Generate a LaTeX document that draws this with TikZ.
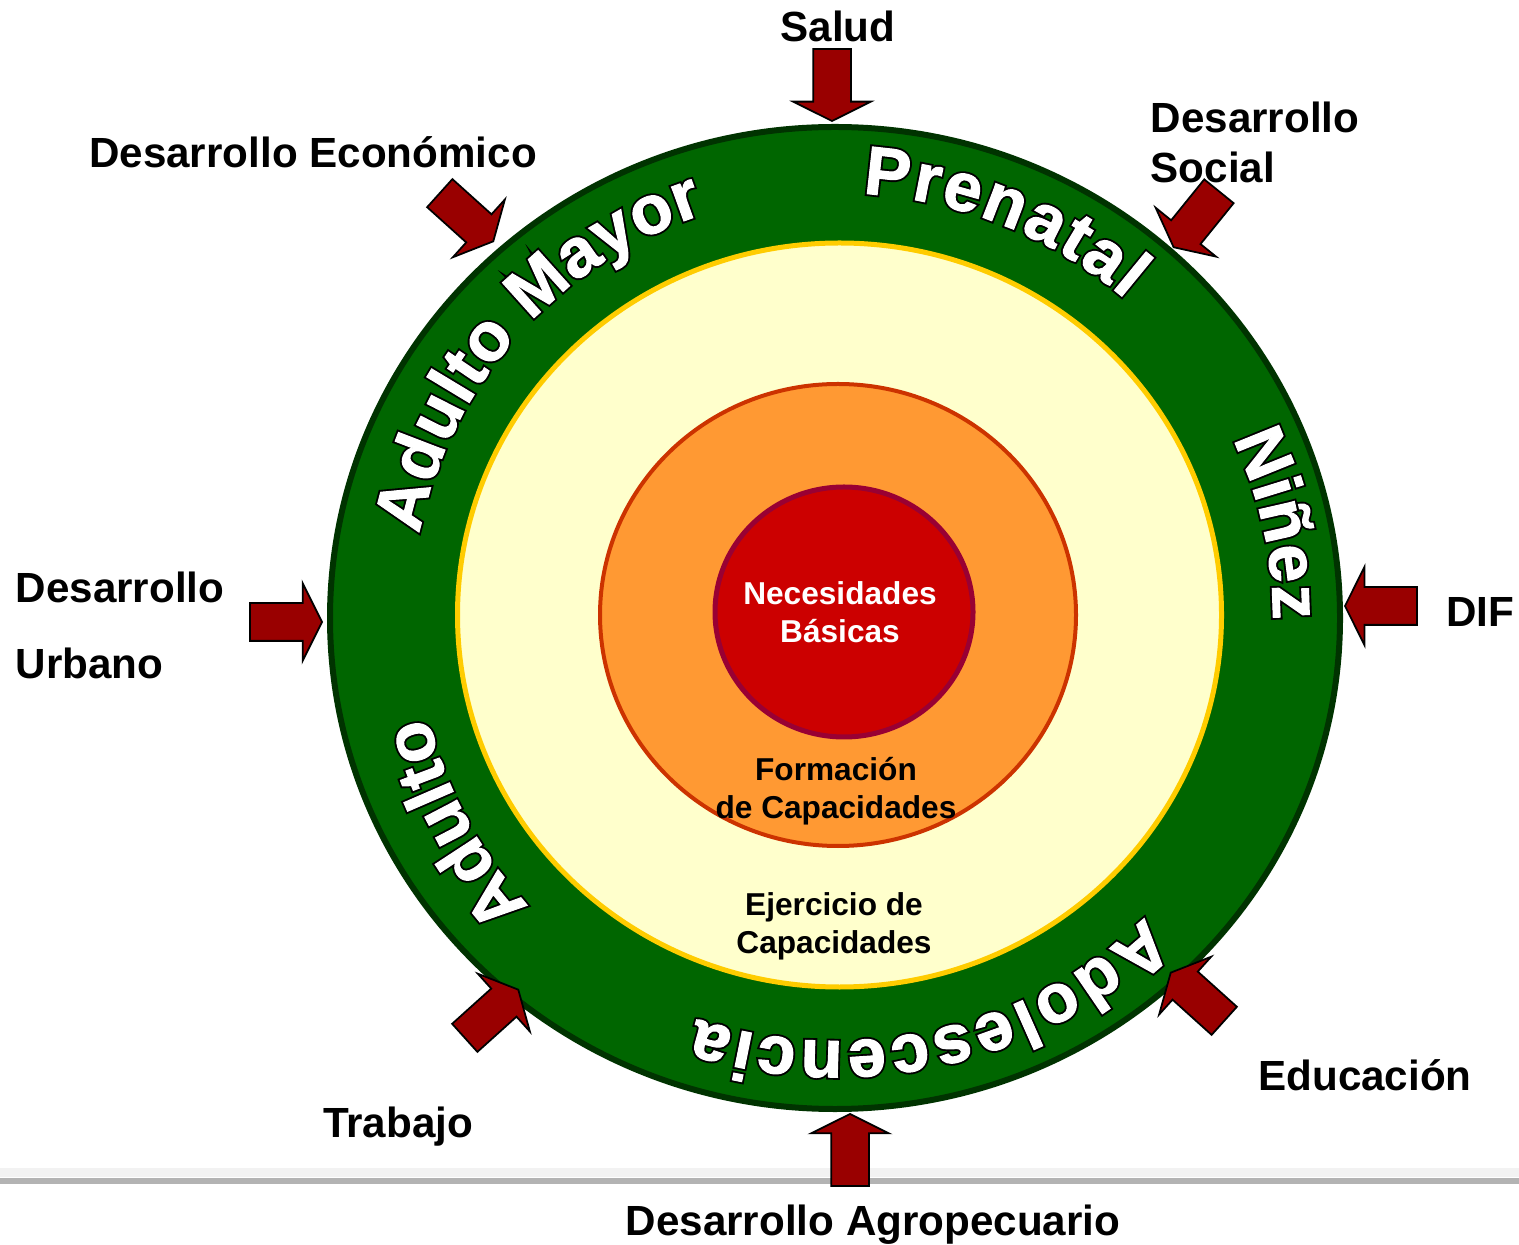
\documentclass[tikz,border=0pt]{standalone}
\usepackage{fontspec}
\setmainfont{Liberation Sans}
\newfontface\ringbgface{Liberation Sans Bold}[FakeBold=7]
\newfontface\ringfgface{Liberation Sans Bold}[FakeBold=1.5]
\usetikzlibrary{shapes.arrows,decorations.text}
\definecolor{ringgreen}{HTML}{006600}
\definecolor{ringedge}{HTML}{003300}
\definecolor{paleyellow}{HTML}{FFFFCC}
\definecolor{gold}{HTML}{FFCC00}
\definecolor{orangefill}{HTML}{FF9933}
\definecolor{orangeedge}{HTML}{CC3300}
\definecolor{corered}{HTML}{CC0000}
\definecolor{coreedge}{HTML}{990033}
\definecolor{arrowred}{HTML}{990000}
\definecolor{rulegray}{HTML}{B3B3B3}
\newcommand\ringfg{\ringfgface\fontsize{19.5pt}{22pt}\selectfont\color{white}}
\newcommand\ringbg{\ringbgface\fontsize{19.5pt}{22pt}\selectfont\color{black}}
% word along the green ring, from angle #2 to #3, x radius #1
\newcommand\ringword[4][4.37cm]{%
  \path[decorate, decoration={text along path, text={|\ringbg|#4}, text align={fit to path}}]
    (ctr) ++(#2:#1 and 4.24cm) arc[start angle=#2, end angle=#3, x radius=#1, y radius=4.24cm];
  \path[decorate, decoration={text along path, text={|\ringfg|#4}, text align={fit to path}}]
    (ctr) ++(#2:#1 and 4.24cm) arc[start angle=#2, end angle=#3, x radius=#1, y radius=4.24cm];}

\begin{document}
\begin{tikzpicture}[
    lbl/.style={font=\fontsize{12pt}{14.2pt}\selectfont\bfseries, inner sep=0pt},
    inlbl/.style={font=\fontsize{9pt}{10.8pt}\selectfont\bfseries, align=center, inner sep=0pt},
    inarrow/.style={single arrow, draw=black, fill=arrowred, line width=0.5pt, inner sep=0pt,
                    minimum height=0.72cm, single arrow head extend=0.2cm, single arrow tip angle=127, anchor=tip}]
  \useasboundingbox (0,0) rectangle (15.19,12.44);
  % bottom rule
  \fill[gray!10] (0,0.67) rectangle (15.19,0.76);
  \fill[rulegray] (0,0.60) rectangle (15.19,0.66);
  % rings
  \coordinate (ctr) at (8.36,6.27);
  \draw[ringedge, fill=ringgreen, line width=0.06cm] (8.35,6.26) ellipse [x radius=5.05cm, y radius=4.91cm];
  \draw[gold, fill=paleyellow, line width=0.05cm] (8.395,6.29) ellipse [x radius=3.82cm, y radius=3.72cm];
  \draw[orangeedge, fill=orangefill, line width=0.04cm] (8.38,6.29) ellipse [x radius=2.38cm, y radius=2.31cm];
  \draw[coreedge, fill=corered, line width=0.05cm] (8.44,6.32) ellipse [x radius=1.29cm, y radius=1.25cm];
  % stages
  \ringword{86.5}{48.5}{Prenatal}
  \ringword{24.8}{-0.4}{Niñez}
  \ringword{-45}{-108.5}{Adolescencia}
  \ringword[4.20cm]{-137}{-165}{Adulto}
  \ringword[4.25cm]{168.7}{108}{Adulto Mayor}
  \node[inlbl, text=white] (basic) at (8.40,6.315) {Necesidades\\Básicas};
  \node[inlbl] (form) at (8.36,4.53) {Formación\\de Capacidades};
  \node[inlbl] (ejer) at (8.34,3.18) {Ejercicio de\\Capacidades};
  % sectors
  \node[lbl, anchor=base] (salud) at (8.38,12.02) {Salud};
  \node[lbl, anchor=west, align=left] (social) at (11.50,11.02) {Desarrollo\\Social};
  \node[lbl, anchor=base] (econ) at (3.13,10.76) {Desarrollo Económico};
  \node[lbl, anchor=west, align=left] (urbano) at (0.15,6.185) {Desarrollo\\[7.4pt]Urbano};
  \node[lbl, anchor=base] (dif) at (14.80,6.17) {DIF};
  \node[lbl, anchor=base] (educ) at (13.65,1.54) {Educación};
  \node[lbl, anchor=base] (trab) at (3.98,1.07) {Trabajo};
  \node[lbl, anchor=base] (agro) at (8.73,0.09) {Desarrollo Agropecuario};
  \node[inarrow, rotate=-90] (aSalud) at (8.32,11.22) {\rule{0pt}{0.36cm}};
  \node[inarrow, rotate=-129] (aSocial) at (11.73,9.96) {\rule{0pt}{0.36cm}};
  \node[inarrow, rotate=-42] (aEcon) at (4.94,10.02) {\rule{0pt}{0.36cm}};
  \node[inarrow, rotate=0] (aUrbano) at (3.23,6.22) {\rule{0pt}{0.36cm}};
  \node[inarrow, rotate=180] (aDif) at (13.44,6.38) {\rule{0pt}{0.36cm}};
  \node[inarrow, rotate=42] (aTrab) at (5.19,2.55) {\rule{0pt}{0.36cm}};
  \node[inarrow, rotate=138] (aEduc) at (11.70,2.72) {\rule{0pt}{0.36cm}};
  \node[inarrow, rotate=90] (aAgro) at (8.50,1.31) {\rule{0pt}{0.36cm}};
\end{tikzpicture}
\end{document}
